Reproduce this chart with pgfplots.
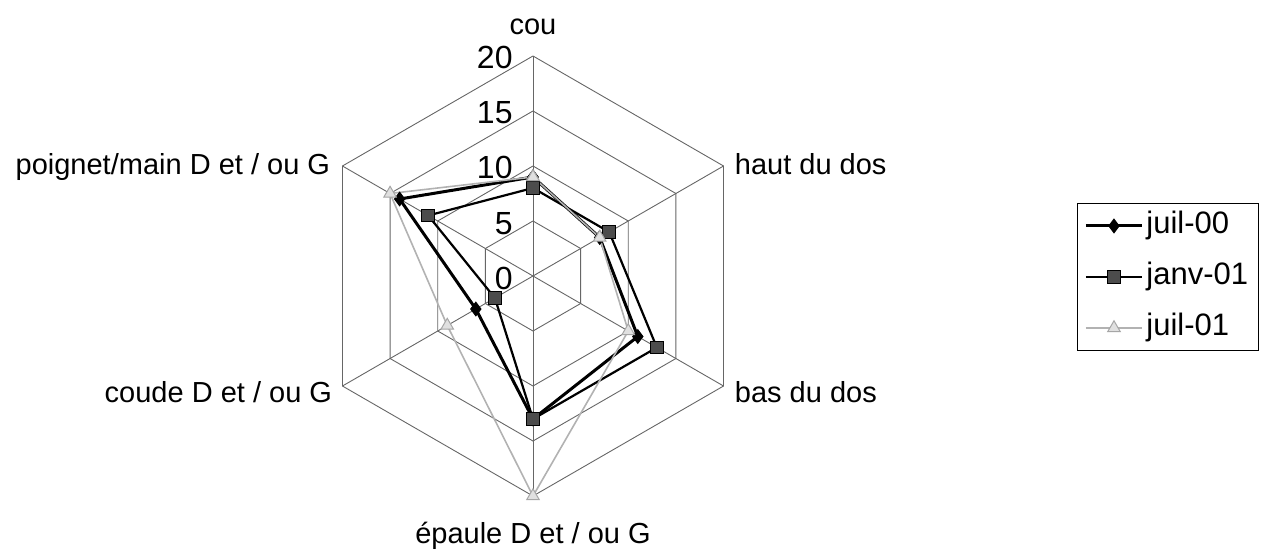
\documentclass[border=0pt]{standalone}
\usepackage{fontspec}
\setmainfont{Liberation Sans}
\usepackage{pgfplots}
\usepackage{pgfplotstable}
\pgfplotsset{compat=1.18}

% values per axis (angle in degrees, cou at the top, clockwise)
\pgfplotstableread{
angle juil00 janv01 juil01
90    9   8   9
30    7   8   7
-30   11  13  10
-90   13  13  20
-150  6   4   9
150   14  11  15
90    9   8   9
}\radar

\tikzset{lab/.style={inner sep=0pt, font=\fontsize{14.5}{17}\selectfont}}

\begin{document}
\begin{tikzpicture}
\begin{axis}[
    x=5.5pt, y=5.5pt,
    xmin=-48.45, xmax=66.36, ymin=-24.64, ymax=25.09,
    hide axis, clip=false,
    gridline/.style={black!60, line width=0.45pt, mark=none, forget plot},
    legend style={
        at={(axis cs:49.45,6.64)}, anchor=north west,
        draw=black, line width=0.5pt,
        inner xsep=3.5pt, inner ysep=2.5pt,
        row sep=8pt,
        nodes={inner sep=1.5pt, text height=11pt, text depth=3.5pt,
               font=\fontsize{15.5}{18}\selectfont},
        /tikz/every even column/.append style={column sep=1pt},
    },
    legend cell align=left,
    legend image code/.code={
        \draw[mark repeat=2, mark phase=2]
            plot coordinates {(0pt,0pt) (14pt,0pt) (28pt,0pt)};
    },
]
% hexagonal grid
\pgfplotsinvokeforeach{5,10,15,20}{
    \addplot[gridline] table[x expr={#1*cos(\thisrow{angle})},
                             y expr={#1*sin(\thisrow{angle})}] {\radar};
}
\addplot[gridline] coordinates {(0,20) (0,-20)};
\addplot[gridline] coordinates {(17.3205,10) (-17.3205,-10)};
\addplot[gridline] coordinates {(17.3205,-10) (-17.3205,10)};

% series
\addplot[black, line width=1.5pt, mark=diamond*, mark size=3.4pt,
         mark options={solid, fill=black, line width=0.5pt}]
    table[x expr={\thisrow{juil00}*cos(\thisrow{angle})},
          y expr={\thisrow{juil00}*sin(\thisrow{angle})}] {\radar};
\addlegendentry{juil-00}
\addplot[black, line width=1.1pt, mark=square*, mark size=3.2pt,
         mark options={solid, fill=black!70, draw=black, line width=0.5pt}]
    table[x expr={\thisrow{janv01}*cos(\thisrow{angle})},
          y expr={\thisrow{janv01}*sin(\thisrow{angle})}] {\radar};
\addlegendentry{janv-01}
\addplot[black!30, line width=0.8pt, mark=triangle*, mark size=3.6pt,
         mark options={solid, fill=black!12, draw=black!35, line width=0.5pt}]
    table[x expr={\thisrow{juil01}*cos(\thisrow{angle})},
          y expr={\thisrow{juil01}*sin(\thisrow{angle})}] {\radar};
\addlegendentry{juil-01}

% category labels
\node[lab, anchor=base, yshift=10.5pt] at (axis cs:0,20) {cou};
\node[lab, anchor=base, yshift=-23.5pt] at (axis cs:0,-20) {épaule D et / ou G};
\node[lab, anchor=base west, xshift=5.5pt, yshift=-4.5pt] at (axis cs:17.3205,10) {haut du dos};
\node[lab, anchor=base west, xshift=5.5pt, yshift=-8pt] at (axis cs:17.3205,-10) {bas du dos};
\node[lab, anchor=base east, xshift=-6pt, yshift=-4.5pt] at (axis cs:-17.3205,10) {poignet/main D et / ou G};
\node[lab, anchor=base east, xshift=-5pt, yshift=-8pt] at (axis cs:-17.3205,-10) {coude D et / ou G};

% radial scale
\pgfplotsinvokeforeach{0,5,10,15,20}{
    \node[inner sep=0pt, anchor=base east, xshift=-10pt, yshift=-6.5pt,
          font=\fontsize{16}{19}\selectfont] at (axis cs:0,#1) {#1};
}
\path (rel axis cs:0,0) rectangle (rel axis cs:1,1);
\end{axis}
\end{tikzpicture}
\end{document}
